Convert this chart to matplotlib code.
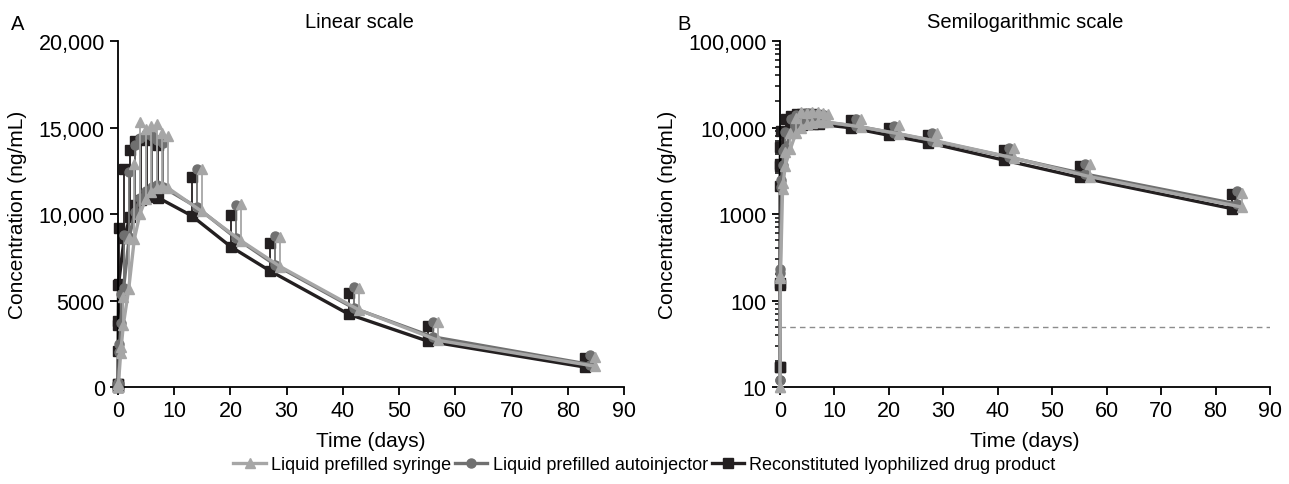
import matplotlib
matplotlib.use("Agg")
import matplotlib.pyplot as plt
import numpy as np
from matplotlib.lines import Line2D

plt.rcParams.update({
    "font.family": ["Liberation Sans", "DejaVu Sans"],
    "font.size": 15,
    "axes.linewidth": 1.3,
    "xtick.major.width": 1.3,
    "ytick.major.width": 1.3,
    "ytick.minor.width": 1.1,
    "xtick.major.size": 6,
    "ytick.major.size": 6,
    "ytick.minor.size": 3.5,
    "axes.spines.top": False,
    "axes.spines.right": False,
})

# Tiempos nominales (días)
dias = np.array([0, 0.04, 0.25, 0.5, 1, 2, 3, 4, 5, 6, 7, 8, 14, 21, 28, 42, 56, 84])

# Media y media+DE (ng/mL)
jeringa_media = [10, 180, 1950, 3600, 5650, 8550, 10000, 10850, 11250, 11500, 11600,
                 11500, 10150, 8450, 6950, 4450, 2700, 1200]
jeringa_sup = [10, 190, 2300, 5200, 8600, 12900, 15300, 14900, 15100, 15200, 14700,
               14500, 12600, 10600, 8650, 5750, 3750, 1750]
autoiny_media = [12, 210, 2050, 3700, 5750, 8650, 10100, 10950, 11350, 11550, 11650,
                 11550, 10400, 8600, 7050, 4550, 2900, 1300]
autoiny_sup = [12, 230, 2500, 5400, 8800, 12400, 14000, 14400, 14600, 14500, 14300,
               14100, 12600, 10500, 8700, 5800, 3750, 1850]
liof_media = [17, 150, 2100, 3800, 5950, 8600, 9800, 10500, 10800, 11000, 11100,
              10950, 9900, 8100, 6700, 4200, 2650, 1150]
liof_sup = [17, 160, 3600, 5900, 9200, 12600, 13700, 14200, 14300, 14400, 14300,
            14000, 12150, 9950, 8300, 5450, 3550, 1700]

etiquetas = ["Liquid prefilled syringe", "Liquid prefilled autoinjector",
             "Reconstituted lyophilized drug product"]
LLOQ = 50

lin_ticks = [0, 5000, 10000, 15000, 20000]
lin_labels = ["0", "5000", "10,000", "15,000", "20,000"]
log_ticks = [10, 100, 1000, 10000, 100000]
log_labels = ["10", "100", "1000", "10,000", "100,000"]
x_ticks = list(range(0, 91, 10))

# (media, sup, color, marcador, desplazamiento, tamaño)
series = [
    (liof_media, liof_sup, "#231f20", "s", -0.9, 7.0),
    (autoiny_media, autoiny_sup, "#707070", "o", 0.0, 6.5),
    (jeringa_media, jeringa_sup, "#a6a6a6", "^", 0.9, 7.5),
]

fig = plt.figure(figsize=(12.89, 4.85), dpi=100)
axA = fig.add_axes([118 / 1289, 0.2, 506 / 1289, 0.7134])
axB = fig.add_axes([780 / 1289, 0.2, 490 / 1289, 0.7134])


def dibujar(ax):
    for z, (med, sup, col, mk, dx, ms) in enumerate(series):
        x = dias + dx * np.minimum(dias, 1)
        ax.vlines(x, med, sup, color=col, lw=1.3, zorder=2 + z, clip_on=False)
        ax.plot(x, sup, ls="none", marker=mk, color=col, ms=ms, zorder=2 + z,
                clip_on=False)
        ax.plot(x, med, "-", marker=mk, color=col, ms=ms, lw=2.4, zorder=2 + z,
                clip_on=False)
    ax.set_xlim(0, 90)
    ax.set_xticks(x_ticks)
    ax.set_xlabel("Time (days)", labelpad=7, fontsize=15)
    ax.set_ylabel("Concentration (ng/mL)", labelpad=8, fontsize=15)
    ax.tick_params(labelsize=15.5)


dibujar(axA)
axA.set_ylim(0, 20000)
axA.set_yticks(lin_ticks)
axA.set_yticklabels(lin_labels)
axA.text(0.478, 1.03, "Linear scale", transform=axA.transAxes, ha="center",
         va="bottom", fontsize=14.5)

dibujar(axB)
axB.set_yscale("log")
axB.set_ylim(10, 100000)
axB.set_yticks(log_ticks)
axB.set_yticklabels(log_labels)
axB.yaxis.set_minor_locator(matplotlib.ticker.LogLocator(base=10, subs=np.arange(2, 10)))
axB.yaxis.set_minor_formatter(matplotlib.ticker.NullFormatter())
axB.axhline(LLOQ, color="#8c8c8c", ls=(0, (4, 3)), lw=1.0, zorder=1)
axB.text(0.5, 1.03, "Semilogarithmic scale", transform=axB.transAxes, ha="center",
         va="bottom", fontsize=14.5)

fig.text(18 / 1289, 1 - 25 / 485, "A", fontsize=14.5, ha="center", va="center")
fig.text(684 / 1289, 1 - 25 / 485, "B", fontsize=14.5, ha="center", va="center")

handles = [
    Line2D([], [], color="#a6a6a6", marker="^", ms=7.5, lw=2.4),
    Line2D([], [], color="#707070", marker="o", ms=6.5, lw=2.4),
    Line2D([], [], color="#231f20", marker="s", ms=7.0, lw=2.4),
]
fig.legend(handles, etiquetas, loc="center", bbox_to_anchor=(0.5, 1 - 466 / 485),
           ncol=3, frameon=False, fontsize=13, handlelength=1.8, handletextpad=0.3,
           columnspacing=0.2, borderpad=0)

fig.savefig("out.png", dpi=100)
